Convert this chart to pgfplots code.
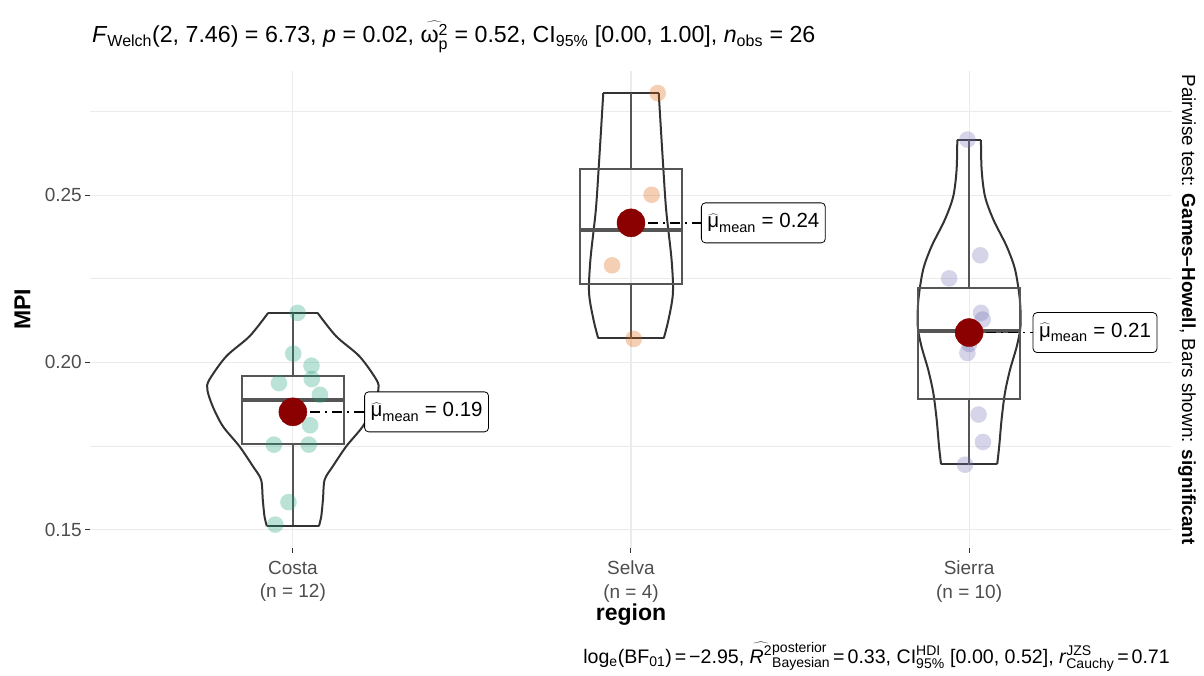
\documentclass[border=0pt]{standalone}
\usepackage{pgfplots}
\pgfplotsset{compat=1.18}
\usepackage{pgfplotstable}
\usepackage{fontspec}
\setmainfont{Liberation Sans}
\definecolor{gridc}{HTML}{EBEBEB}
\definecolor{costa}{HTML}{1B9E77}
\definecolor{selva}{HTML}{D95F02}
\definecolor{sierra}{HTML}{7570B3}
\definecolor{meanc}{HTML}{8B0000}
\definecolor{tickc}{HTML}{4D4D4D}
\definecolor{boxc}{HTML}{555555}
\definecolor{violc}{HTML}{333333}
\newcommand{\tsm}[1]{\hbox{\fontsize{16}{16}\selectfont #1}}
\newcommand{\csm}[1]{\hbox{\fontsize{14}{14}\selectfont #1}}
\newcommand{\lsm}[1]{\hbox{\fontsize{14.5}{14.5}\selectfont #1}}
\newcommand{\teq}{\hspace{0.28em}=\hspace{0.28em}}
\newcommand{\ceq}{\hspace{0.15em}=\hspace{0.15em}}

\pgfplotstableread{
y hw
0.2148 0.073
0.2078 0.128
0.2018 0.197
0.1948 0.247
0.1918 0.253
0.1868 0.237
0.1809 0.207
0.1749 0.158
0.1689 0.118
0.1649 0.094
0.1590 0.089
0.1540 0.084
0.1510 0.077
}\costaV
\pgfplotstableread{
y hw
0.2805 0.082
0.2606 0.094
0.2456 0.104
0.2307 0.120
0.2207 0.124
0.2128 0.111
0.2072 0.097
}\selvaV
\pgfplotstableread{
y hw
0.2665 0.035
0.2576 0.037
0.2496 0.047
0.2426 0.072
0.2347 0.111
0.2277 0.136
0.2187 0.150
0.2108 0.152
0.2048 0.141
0.1978 0.121
0.1909 0.106
0.1829 0.096
0.1749 0.089
0.1695 0.083
}\sierraV

\begin{document}
\begin{tikzpicture}
\useasboundingbox (-90pt,-127pt) rectangle (1114pt,548pt);
\begin{axis}[
  at={(0pt,0pt)}, anchor=south west,
  scale only axis, width=1082pt, height=477pt,
  xmin=0.4, xmax=3.6, ymin=0.1445, ymax=0.2871,
  xtick={1,2,3},
  xticklabels={{Costa\\(n = 12)},{Selva\\(n = 4)},{Sierra\\(n = 10)}},
  xticklabel style={align=center, font=\fontsize{19}{23.4}\selectfont, text=tickc, inner sep=3pt, yshift=-5pt},
  ytick={0.15,0.20,0.25}, yticklabels={0.15,0.20,0.25},
  yticklabel style={font=\fontsize{19}{22}\selectfont, text=tickc, inner sep=3pt},
  minor ytick={0.175,0.225,0.275},
  grid=both,
  major grid style={gridc, line width=1.1pt},
  minor grid style={gridc, line width=0.7pt},
  axis line style={draw=none},
  tick align=outside, major tick length=5pt, minor tick length=0pt,
  tick style={draw=violc, line width=1pt},
  xtick pos=left, ytick pos=left,
  clip=false,
]
% violins
\addplot[violc, line width=2pt, smooth, tension=0.5] table[x expr=1+\thisrow{hw}, y=y] {\costaV};
\addplot[violc, line width=2pt, smooth, tension=0.5] table[x expr=1-\thisrow{hw}, y=y] {\costaV};
\addplot[violc, line width=2pt] coordinates {(0.927,0.2148) (1.073,0.2148)};
\addplot[violc, line width=2pt] coordinates {(0.923,0.1510) (1.077,0.1510)};
\addplot[violc, line width=2pt, smooth, tension=0.5] table[x expr=2+\thisrow{hw}, y=y] {\selvaV};
\addplot[violc, line width=2pt, smooth, tension=0.5] table[x expr=2-\thisrow{hw}, y=y] {\selvaV};
\addplot[violc, line width=2pt] coordinates {(1.918,0.2805) (2.082,0.2805)};
\addplot[violc, line width=2pt] coordinates {(1.903,0.2072) (2.097,0.2072)};
\addplot[violc, line width=2pt, smooth, tension=0.5] table[x expr=3+\thisrow{hw}, y=y] {\sierraV};
\addplot[violc, line width=2pt, smooth, tension=0.5] table[x expr=3-\thisrow{hw}, y=y] {\sierraV};
\addplot[violc, line width=2pt] coordinates {(2.965,0.2665) (3.035,0.2665)};
\addplot[violc, line width=2pt] coordinates {(2.917,0.1695) (3.083,0.1695)};
% points
\addplot[only marks, mark=*, mark size=8.3pt, mark options={fill=costa, fill opacity=0.3, draw opacity=0}] coordinates {
(1.014,0.2148) (1.001,0.2026) (1.055,0.1990) (0.959,0.1938) (1.056,0.1950) (1.080,0.1903)
(1.051,0.1812) (0.944,0.1754) (1.047,0.1754) (0.987,0.1582) (0.948,0.1515) (1.000,0.1868)};
\addplot[only marks, mark=*, mark size=8.3pt, mark options={fill=selva, fill opacity=0.3, draw opacity=0}] coordinates {
(2.079,0.2805) (2.061,0.2501) (1.944,0.2290) (2.008,0.2070)};
\addplot[only marks, mark=*, mark size=8.3pt, mark options={fill=sierra, fill opacity=0.3, draw opacity=0}] coordinates {
(2.995,0.2666) (3.033,0.2320) (2.941,0.2251) (3.035,0.2148) (3.040,0.2128) (2.995,0.2028)
(3.028,0.1844) (3.041,0.1762) (2.988,0.1694) (3.000,0.2055)};
% boxes: Costa
\addplot[boxc, line width=2pt, line join=miter] coordinates {(0.85,0.1756) (1.15,0.1756) (1.15,0.1958) (0.85,0.1958) (0.85,0.1756) (1.15,0.1756)};
\addplot[boxc, line width=2pt] coordinates {(1,0.1958) (1,0.2148)};
\addplot[boxc, line width=2pt] coordinates {(1,0.1756) (1,0.1515)};
\addplot[boxc, line width=4pt] coordinates {(0.85,0.1886) (1.15,0.1886)};
% Selva
\addplot[boxc, line width=2pt, line join=miter] coordinates {(1.85,0.2234) (2.15,0.2234) (2.15,0.2579) (1.85,0.2579) (1.85,0.2234) (2.15,0.2234)};
\addplot[boxc, line width=2pt] coordinates {(2,0.2579) (2,0.2805)};
\addplot[boxc, line width=2pt] coordinates {(2,0.2234) (2,0.2070)};
\addplot[boxc, line width=4pt] coordinates {(1.85,0.2395) (2.15,0.2395)};
% Sierra
\addplot[boxc, line width=2pt, line join=miter] coordinates {(2.85,0.1889) (3.15,0.1889) (3.15,0.2222) (2.85,0.2222) (2.85,0.1889) (3.15,0.1889)};
\addplot[boxc, line width=2pt] coordinates {(3,0.2222) (3,0.2665)};
\addplot[boxc, line width=2pt] coordinates {(3,0.1889) (3,0.1694)};
\addplot[boxc, line width=4pt] coordinates {(2.85,0.2093) (3.15,0.2093)};
% means
\addplot[only marks, mark=*, mark size=14pt, mark options={fill=meanc, draw=meanc}] coordinates {
(1,0.1852) (2,0.2417) (3,0.2089)};
% connectors
\addplot[black, line width=1.8pt, dash pattern=on 2pt off 5pt on 10pt off 5pt] coordinates {(1.03,0.1852) (1.211,0.1852)};
\addplot[black, line width=1.8pt, dash pattern=on 2pt off 5pt on 10pt off 5pt] coordinates {(2.03,0.2417) (2.207,0.2417)};
\addplot[black, line width=1.8pt, dash pattern=on 2pt off 5pt on 10pt off 5pt] coordinates {(3.03,0.2089) (3.188,0.2089)};
% labels
\tikzset{mlab/.style={draw=black, fill=white, rounded corners=4pt, anchor=west, line width=0.8pt, inner xsep=6pt, minimum height=40pt, font=\fontsize{20.5}{22}\selectfont}}
\node[mlab] at (axis cs:1.211,0.1852) {$\widehat{\hbox{μ}}_{\lsm{mean}}$\teq 0.19};
\node[mlab] at (axis cs:2.207,0.2417) {$\widehat{\hbox{μ}}_{\lsm{mean}}$\teq 0.24};
\node[mlab] at (axis cs:3.188,0.2089) {$\widehat{\hbox{μ}}_{\lsm{mean}}$\teq 0.21};
\end{axis}
% outer texts
\node[anchor=base west, inner sep=0pt] at (2pt,505pt) {\fontsize{23.2}{25}\selectfont $\hbox{\textit{F}}_{\tsm{Welch}}$(2, 7.46)\teq 6.73, \textit{p}\teq 0.02, $\widehat{\hbox{ω}^{\tsm{2}}_{\tsm{p}}}$\teq 0.52, CI$_{\tsm{95\%}}$ [0.00, 1.00], $\hbox{\textit{n}}_{\tsm{obs}}$\teq 26};
\node[anchor=base east, inner sep=0pt] at (1080pt,-115pt) {\fontsize{19.6}{21}\selectfont log$_{\csm{e}}$(BF$_{\csm{01}}$)\ceq −2.95, $\widehat{\hbox{\textit{R}}^{\csm{2}}}{}^{\csm{posterior}}_{\csm{Bayesian}}$\ceq 0.33, CI$^{\csm{HDI}}_{\csm{95\%}}$ [0.00, 0.52], $\hbox{\textit{r}}^{\csm{JZS}}_{\csm{Cauchy}}$\ceq 0.71};
\node[rotate=-90, inner sep=0pt] at (1097pt,238.5pt) {\fontsize{18.9}{21}\selectfont Pairwise test: \textbf{Games–Howell}, Bars shown: \textbf{significant}};
\node[rotate=90, inner sep=0pt] at (-67.5pt,238.5pt) {\fontsize{23}{25}\selectfont\bfseries MPI};
\node[anchor=base, inner sep=0pt] at (541pt,-72pt) {\fontsize{23}{25}\selectfont\bfseries region};
\end{tikzpicture}
\end{document}
